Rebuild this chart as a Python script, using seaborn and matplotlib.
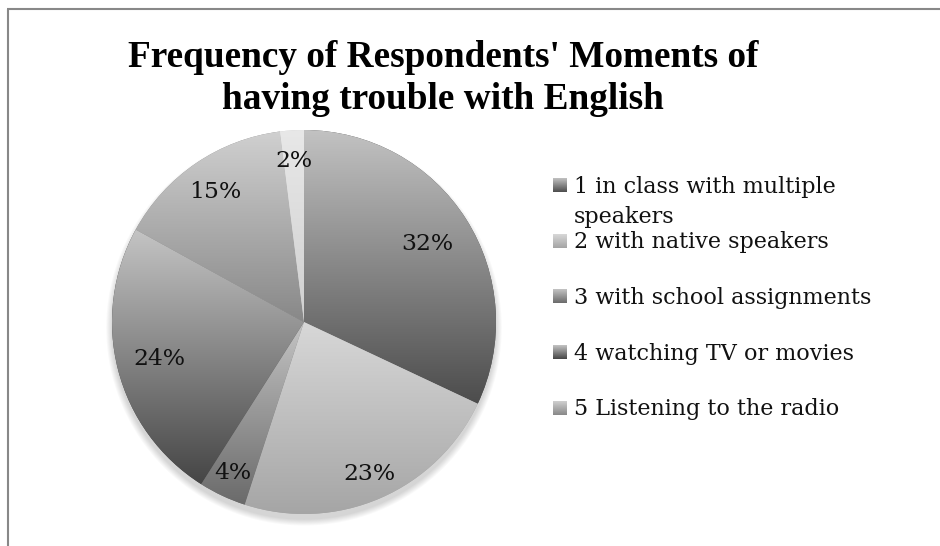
import numpy as np
import matplotlib
matplotlib.use("Agg")
import matplotlib.pyplot as plt
import seaborn as sns
from matplotlib.colors import LinearSegmentedColormap
from matplotlib.patches import Circle

# ---- chart data ----
title_lines = ["Frequency of Respondents' Moments of", "having trouble with English"]
categories = ["1 in class with multiple\nspeakers", "2 with native speakers",
              "3 with school assignments", "4 watching TV or movies",
              "5 Listening to the radio", "6 other"]
shares = [32, 23, 4, 24, 15, 2]

# ---- styling ----
shade_top = ["#c2c2c2", "#d8d8d8", "#c4c4c4", "#c4c4c4", "#d0d0d0", "#e8e8e8"]
shade_bottom = ["#4c4c4c", "#a4a4a4", "#6a6a6a", "#454545", "#888888", "#d0d0d0"]
label_radius = [0.76, 0.86, 0.87, 0.78, 0.82, 0.84]
legend_rows = 5

sns.set_theme(style="white")
plt.rcParams["font.family"] = ["DejaVu Serif", "DejaVu Sans"]

W, H = 940, 546
fig = plt.figure(figsize=(W / 100, H / 100), dpi=100)
renderer = fig.canvas.get_renderer()


def fitted_size(text, target_px, **kw):
    probe = fig.text(0, 0, text, fontsize=20, **kw)
    width = probe.get_window_extent(renderer=renderer).width
    probe.remove()
    return 20 * target_px / width


def gradient_cmap(bottom, top):
    return LinearSegmentedColormap.from_list("", [bottom, top])


ramp = np.linspace(0, 1, 256)[:, None]

# overlay in pixel coordinates for frame, title and legend
overlay = fig.add_axes([0, 0, 1, 1])
overlay.set_xlim(0, W)
overlay.set_ylim(H, 0)
overlay.axis("off")

frame_kw = dict(color="#888888", lw=1.5, solid_capstyle="butt", clip_on=False)
overlay.plot([7, W], [9, 9], **frame_kw)
overlay.plot([8, 8], [9, H], **frame_kw)

title_fs = fitted_size(title_lines[0], 630, family="Liberation Serif", fontweight="bold")
for line, base in zip(title_lines, [67, 109]):
    overlay.text(443, base, line, ha="center", va="baseline", fontsize=title_fs,
                 family="Liberation Serif", fontweight="bold", color="black")

body_fs = fitted_size("3 with school assignments", 298, family="DejaVu Serif")

# legend (entries beyond the frame height are not shown)
for i in range(legend_rows):
    cy = 185 + 55.7 * i
    overlay.imshow(ramp, extent=(553, 567, cy + 7, cy - 7), origin="lower",
                   cmap=gradient_cmap(shade_bottom[i], shade_top[i]), aspect="auto",
                   interpolation="bilinear")
    for j, part in enumerate(categories[i].split("\n")):
        overlay.text(574, cy + 7.5 + 30 * j, part, ha="left", va="baseline",
                     fontsize=body_fs, color="#111111")
overlay.set_xlim(0, W)
overlay.set_ylim(H, 0)
overlay.set_aspect("auto")

# pie
CX, CY, R = 304, 322, 192
ax = fig.add_axes([(CX - R) / W, 1 - (CY + R) / H, 2 * R / W, 2 * R / H])
wedges, _ = ax.pie(shares, startangle=90, counterclock=False, radius=1,
                   colors=shade_bottom, wedgeprops=dict(linewidth=0))

# soft drop shadow under the disc
for k in range(7):
    ax.add_patch(Circle((0, -0.03), 1 + 0.005 * k, color="black", alpha=0.022,
                        lw=0, zorder=0.5, clip_on=False))

for w, top, bot in zip(wedges, shade_top, shade_bottom):
    v = w.get_path().vertices
    x0, x1 = v[:, 0].min(), v[:, 0].max()
    y0, y1 = v[:, 1].min(), v[:, 1].max()
    im = ax.imshow(ramp, extent=(x0, x1, y0, y1), origin="lower",
                   cmap=gradient_cmap(bot, top), aspect="auto",
                   interpolation="bilinear", zorder=1.5)
    im.set_clip_path(w)

cum = 0
for v, rr in zip(shares, label_radius):
    mid = np.deg2rad(90 - (cum + v / 2) * 3.6)
    cum += v
    ax.text(rr * np.cos(mid), rr * np.sin(mid), f"{v}%", ha="center", va="center",
            fontsize=body_fs * 1.05, color="#111111", zorder=3)

ax.set_xlim(-1, 1)
ax.set_ylim(-1, 1)
ax.set_aspect("auto")
ax.axis("off")

fig.savefig("out.png", dpi=100, facecolor="white")
